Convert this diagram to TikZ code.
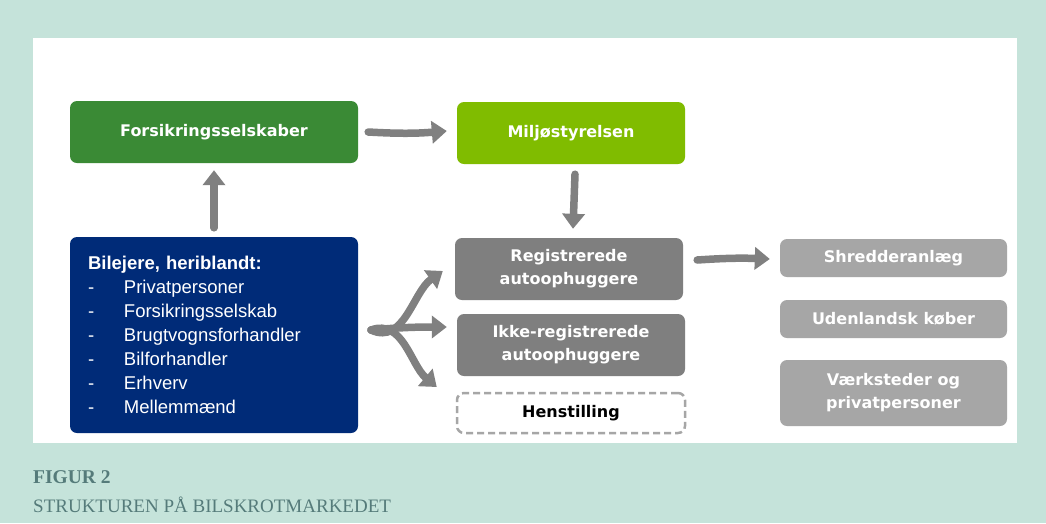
\documentclass[tikz,border=0pt]{standalone}
\usepackage{fontspec}
\setmainfont{Liberation Sans}
\newfontfamily\boxfont{DejaVu Sans}
\newfontfamily\capfont{Liberation Serif}
\usetikzlibrary{arrows.meta, positioning}

\definecolor{frame}{HTML}{C5E3DA}
\definecolor{darkgreen}{HTML}{3A8A35}
\definecolor{lightgreen}{HTML}{80BC00}
\definecolor{navy}{HTML}{002B78}
\definecolor{midgray}{HTML}{7F7F7F}
\definecolor{palegray}{HTML}{A6A6A6}
\definecolor{arrowgray}{HTML}{808080}
\definecolor{captext}{HTML}{557B7A}

\begin{document}
\begin{tikzpicture}[
    x=1pt, y=-1pt,
    block/.style={rounded corners=7pt, minimum width=228pt, minimum height=62pt, align=center, text=white, font=\boxfont\bfseries\fontsize{16}{23}\selectfont, inner sep=0pt},
    actor/.style={block, fill=midgray},
    buyer/.style={block, fill=palegray, minimum width=227pt, minimum height=38pt},
    flow/.style={-{Triangle[length=15pt, width=22pt]}, line width=7.5pt, draw=arrowgray, line cap=round}
]
\useasboundingbox (0,0) rectangle (1046,523);
\fill[frame] (0,0) rectangle (1046,523);
\fill[white] (33,38) rectangle (1017,443);

% top row
\node[block, fill=darkgreen, minimum width=288pt] (forsik) at (214,132) {Forsikringsselskaber};
\node[block, fill=lightgreen] (miljo) at (571,133) {Miljøstyrelsen};

% car owners
\node[block, fill=navy, minimum width=288pt, minimum height=196pt, text width=252pt, align=left, font=\fontsize{18.5}{24}\selectfont] (owners) at (214,335)
  {{\bfseries Bilejere, heriblandt:}\\
   \makebox[36pt][l]{-}Privatpersoner\\
   \makebox[36pt][l]{-}Forsikringsselskab\\
   \makebox[36pt][l]{-}Brugtvognsforhandler\\
   \makebox[36pt][l]{-}Bilforhandler\\
   \makebox[36pt][l]{-}Erhverv\\
   \makebox[36pt][l]{-}Mellemmænd};

% scrapyards
\node[actor] (reg) at (569,269) {Registrerede\\autoophuggere};
\node[actor] (ikke) at (571,345) {Ikke-registrerede\\autoophuggere};
\node[block, minimum height=40pt, draw=palegray, dashed, line width=2.5pt, dash pattern=on 7pt off 4pt, text=black] (hen) at (571,413) {Henstilling};

% buyers
\node[buyer] (shred) at (893.5,258) {Shredderanlæg};
\node[buyer] (uden) at (893.5,319) {Udenlandsk køber};
\node[buyer, minimum height=66pt] (vaerk) at (893.5,393) {Værksteder og\\privatpersoner};

% arrows
\draw[flow] ([xshift=10pt]forsik.east) to[bend right=4] ([xshift=-10pt,yshift=2pt]miljo.west);
\draw[flow] ([yshift=9pt]owners.north) -- ([yshift=-7pt]forsik.south);
\draw[flow] ([xshift=4pt,yshift=-10pt]miljo.south) -- ([xshift=4pt,yshift=9pt]reg.north);
\draw[flow] ([xshift=14pt,yshift=9pt]reg.east) to[bend left=3] ([xshift=-10pt,yshift=-1pt]shred.west);

\coordinate (fan) at (371,330);
\draw[flow] (fan) to[out=-25, in=215] ([xshift=-12pt,yshift=-2pt]reg.west);
\draw[flow] (fan) to[out=5, in=180] ([xshift=-10pt,yshift=18pt]ikke.west);
\draw[flow] (fan) to[out=20, in=140] ([xshift=-19pt,yshift=26pt]hen.west);

% caption
\node[anchor=base west, inner sep=0pt, text=captext, font=\capfont\bfseries\fontsize{19.5}{21}\selectfont] (fig) at (33,483) {FIGUR 2};
\node[anchor=base west, inner sep=0pt, text=captext, font=\capfont\fontsize{19}{21}\selectfont] (title) at (33,512) {STRUKTUREN PÅ BILSKROTMARKEDET};
\end{tikzpicture}
\end{document}
